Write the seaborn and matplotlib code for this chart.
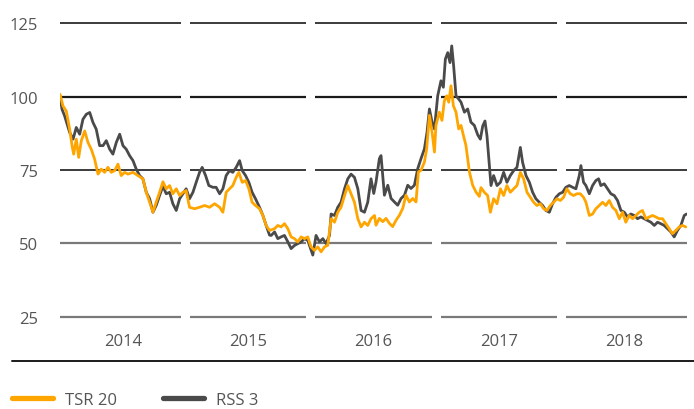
import matplotlib
matplotlib.use("Agg")
import matplotlib.pyplot as plt
import seaborn as sns
import pandas as pd
from matplotlib.lines import Line2D

# ---------------- data (decimal year offsets from 2014, index values) ----------------
tsr_t = [0.000, 0.024, 0.050, 0.077, 0.096, 0.109, 0.130, 0.149, 0.170, 0.197, 0.223, 0.249,
         0.276, 0.303, 0.329, 0.356, 0.382, 0.409, 0.436, 0.462, 0.488, 0.516, 0.542, 0.582,
         0.622, 0.661, 0.688, 0.715, 0.741, 0.767, 0.794, 0.821, 0.847, 0.874, 0.900, 0.927,
         0.954, 0.980, 1.006, 1.033, 1.073, 1.113, 1.153, 1.193, 1.233, 1.273, 1.299, 1.325,
         1.352, 1.378, 1.405, 1.426, 1.453, 1.480, 1.506, 1.532, 1.559, 1.591, 1.618, 1.644,
         1.671, 1.711, 1.737, 1.763, 1.790, 1.817, 1.843, 1.870, 1.896, 1.923, 1.950, 1.976,
         2.002, 2.029, 2.056, 2.082, 2.109, 2.135, 2.162, 2.189, 2.215, 2.241, 2.269, 2.295,
         2.321, 2.348, 2.375, 2.401, 2.428, 2.454, 2.480, 2.508, 2.520, 2.547, 2.574, 2.600,
         2.627, 2.653, 2.680, 2.707, 2.733, 2.759, 2.786, 2.813, 2.839, 2.858, 2.879, 2.906,
         2.924, 2.946, 2.967, 2.986, 2.998, 3.025, 3.046, 3.065, 3.084, 3.100, 3.118, 3.137,
         3.158, 3.179, 3.198, 3.217, 3.237, 3.265, 3.291, 3.317, 3.344, 3.357, 3.384, 3.410,
         3.432, 3.458, 3.485, 3.512, 3.538, 3.564, 3.591, 3.618, 3.644, 3.671, 3.697, 3.724,
         3.751, 3.777, 3.803, 3.830, 3.857, 3.883, 3.910, 3.936, 3.963, 3.990, 4.016, 4.042,
         4.069, 4.096, 4.122, 4.149, 4.175, 4.194, 4.221, 4.247, 4.273, 4.300, 4.327, 4.353,
         4.380, 4.406, 4.433, 4.460, 4.486, 4.512, 4.539, 4.566, 4.592, 4.619, 4.645, 4.672,
         4.699, 4.725, 4.751, 4.778, 4.805, 4.831, 4.858, 4.884, 4.911, 4.938, 4.964, 4.990]
tsr_v = [100.8, 96.8, 95.1, 88.9, 83.3, 80.4, 85.5, 79.3, 85.0, 88.3, 84.4, 82.1,
         78.7, 73.6, 75.3, 74.2, 75.9, 74.2, 74.8, 77.0, 73.1, 74.2, 73.6, 74.2,
         73.1, 72.0, 67.4, 64.0, 60.6, 64.0, 67.4, 71.0, 68.6, 69.7, 66.9, 68.6,
         66.3, 67.4, 68.0, 62.3, 61.8, 62.3, 62.9, 62.3, 63.5, 62.3, 60.6, 67.4,
         68.6, 69.7, 72.5, 74.2, 70.8, 71.4, 68.6, 64.0, 62.9, 61.8, 59.5, 56.1,
         54.4, 55.0, 56.1, 55.6, 56.7, 55.0, 52.2, 51.6, 50.5, 52.2, 51.6, 52.2,
         48.8, 47.6, 48.8, 47.1, 48.8, 49.3, 58.4, 57.2, 60.6, 62.3, 66.3, 69.7,
         66.9, 64.0, 58.4, 55.6, 57.2, 56.1, 58.4, 59.5, 56.2, 58.5, 57.4, 58.5,
         56.8, 55.7, 57.9, 59.6, 61.9, 66.4, 64.1, 65.3, 64.1, 74.3, 74.9, 77.7,
         82.2, 93.6, 87.9, 81.1, 90.2, 94.7, 91.9, 98.6, 100.3, 98.1, 103.7, 96.9,
         94.7, 89.0, 90.2, 86.8, 83.4, 74.3, 69.8, 67.5, 66.0, 69.0, 67.4, 66.3,
         60.6, 65.2, 63.5, 68.6, 66.3, 69.7, 67.4, 68.6, 69.7, 74.2, 72.0, 67.4,
         65.7, 64.0, 62.9, 63.5, 61.8, 61.2, 62.9, 64.0, 65.2, 64.6, 65.7, 68.6,
         66.9, 66.3, 66.9, 66.9, 65.7, 64.0, 59.5, 60.0, 61.8, 62.9, 64.0, 62.9,
         64.6, 62.3, 61.2, 58.4, 60.6, 57.2, 59.5, 58.4, 59.5, 60.6, 61.2, 58.4,
         59.0, 59.5, 59.0, 58.4, 58.4, 56.7, 55.0, 53.3, 54.4, 55.6, 56.1, 55.6]

rss_t = [0.000, 0.016, 0.037, 0.077, 0.104, 0.130, 0.157, 0.183, 0.210, 0.237, 0.263, 0.289,
         0.316, 0.343, 0.369, 0.396, 0.422, 0.449, 0.476, 0.502, 0.528, 0.555, 0.582, 0.608,
         0.635, 0.661, 0.688, 0.715, 0.741, 0.767, 0.794, 0.821, 0.847, 0.874, 0.900, 0.927,
         0.954, 0.980, 1.006, 1.033, 1.060, 1.086, 1.113, 1.134, 1.161, 1.187, 1.219, 1.245,
         1.273, 1.299, 1.325, 1.352, 1.378, 1.405, 1.432, 1.453, 1.480, 1.506, 1.532, 1.559,
         1.591, 1.618, 1.644, 1.671, 1.684, 1.711, 1.737, 1.763, 1.790, 1.817, 1.843, 1.870,
         1.896, 1.923, 1.950, 1.976, 2.016, 2.042, 2.069, 2.096, 2.122, 2.149, 2.162, 2.189,
         2.215, 2.241, 2.269, 2.295, 2.321, 2.348, 2.375, 2.401, 2.428, 2.454, 2.480, 2.502,
         2.520, 2.547, 2.560, 2.587, 2.614, 2.640, 2.667, 2.693, 2.720, 2.747, 2.773, 2.799,
         2.826, 2.853, 2.879, 2.906, 2.927, 2.946, 2.967, 2.986, 3.012, 3.038, 3.057, 3.073,
         3.092, 3.110, 3.124, 3.139, 3.158, 3.179, 3.198, 3.225, 3.251, 3.277, 3.304, 3.331,
         3.352, 3.371, 3.389, 3.405, 3.424, 3.437, 3.458, 3.485, 3.512, 3.538, 3.564, 3.591,
         3.618, 3.644, 3.671, 3.689, 3.716, 3.743, 3.769, 3.795, 3.822, 3.849, 3.875, 3.902,
         3.928, 3.955, 3.982, 4.008, 4.034, 4.061, 4.088, 4.114, 4.141, 4.154, 4.175, 4.194,
         4.221, 4.247, 4.273, 4.295, 4.313, 4.340, 4.367, 4.393, 4.420, 4.446, 4.473, 4.500,
         4.526, 4.552, 4.579, 4.606, 4.632, 4.659, 4.685, 4.712, 4.739, 4.765, 4.791, 4.818,
         4.845, 4.871, 4.898, 4.924, 4.951, 4.978, 4.996]
rss_v = [100.2, 95.7, 93.4, 87.8, 85.5, 89.5, 87.2, 92.3, 94.0, 94.6, 91.2, 88.9,
         83.3, 83.3, 85.0, 82.1, 80.4, 84.4, 87.2, 83.3, 82.1, 79.9, 78.2, 75.3,
         73.1, 72.0, 67.4, 65.2, 60.6, 62.9, 66.3, 69.5, 66.9, 67.4, 63.5, 61.2,
         65.2, 66.9, 68.6, 65.2, 67.4, 70.8, 74.2, 75.9, 73.1, 69.7, 69.1, 69.1,
         66.9, 68.6, 73.1, 74.8, 74.2, 75.9, 78.2, 74.8, 73.1, 70.8, 67.4, 65.2,
         62.3, 59.5, 56.1, 52.8, 52.7, 53.9, 51.6, 52.2, 52.7, 50.5, 48.2, 49.3,
         49.9, 50.5, 51.6, 51.0, 46.0, 52.7, 50.5, 51.6, 49.9, 52.7, 60.0, 59.5,
         62.3, 64.0, 68.6, 72.0, 73.6, 72.5, 68.6, 61.2, 60.6, 64.0, 72.0, 67.0,
         70.9, 78.9, 79.9, 66.4, 69.8, 65.3, 64.1, 63.0, 65.3, 66.4, 69.8, 68.7,
         69.8, 75.5, 78.9, 82.2, 87.9, 95.8, 91.3, 89.0, 100.3, 105.4, 103.2, 112.8,
         115.0, 111.6, 117.3, 110.5, 100.3, 99.2, 98.1, 94.7, 95.8, 91.3, 90.2, 87.0,
         85.5, 90.0, 91.7, 86.6, 76.5, 69.7, 73.1, 69.7, 70.8, 74.2, 70.8, 73.1,
         74.8, 75.9, 82.7, 77.6, 73.1, 70.8, 67.4, 65.2, 64.0, 62.9, 61.2, 60.6,
         63.5, 65.7, 66.9, 67.4, 69.1, 69.7, 69.1, 68.6, 73.1, 76.5, 70.8, 69.7,
         66.9, 69.7, 71.4, 72.0, 69.7, 70.3, 68.6, 66.9, 66.3, 64.6, 61.2, 60.6,
         59.0, 60.0, 59.5, 58.4, 59.0, 58.4, 57.8, 57.2, 56.1, 57.2, 56.7, 56.1,
         55.0, 53.9, 52.2, 54.4, 56.1, 59.5, 60.0]

start_year = 2014
years = [2014, 2015, 2016, 2017, 2018]
year_labels = ["2014", "2015", "2016", "2017", "2018"]
yticks = [25, 50, 75, 100, 125]
series_names = ["TSR 20", "RSS 3"]

# ---------------- build frame ----------------
df = pd.concat([
    pd.DataFrame({"t": [start_year + x for x in rss_t], "v": rss_v, "series": "RSS 3"}),
    pd.DataFrame({"t": [start_year + x for x in tsr_t], "v": tsr_v, "series": "TSR 20"}),
], ignore_index=True)

ORANGE = "#FFA500"
DARK = "#4A4A4A"
TXT = "#555555"

sns.set_style("white")
plt.rcParams['font.family'] = ['Open Sans', 'DejaVu Sans']

W, H = 694, 410
fig = plt.figure(figsize=(W / 100, H / 100), dpi=100)
ylo, yhi = 20, 130
px_per = 293.4 / 100.0
bot_px = 317.7 + (25 - ylo) * px_per
top_px = 24.3 - (yhi - 125) * px_per
ax = fig.add_axes([60 / W, 1 - bot_px / H, 627 / W, (bot_px - top_px) / H])

# grid segments per year with small gaps
gap = 4.5 / 125.4
grid_cols = {25: "#7a7a7a", 50: "#7a7a7a", 75: "#1a1a1a", 100: "#1a1a1a", 125: "#1a1a1a"}
grid_lw = {25: 1.6, 50: 1.6, 75: 1.2, 100: 1.6, 125: 1.2}
for yv in yticks:
    for i, yr in enumerate(years):
        x0 = yr + (gap if i > 0 else 0)
        x1 = yr + 1 - (gap if i < len(years) - 1 else 0)
        ax.hlines(yv, x0, x1, color=grid_cols[yv], lw=grid_lw[yv], zorder=1)

sns.lineplot(data=df, x="t", y="v", hue="series", hue_order=["RSS 3", "TSR 20"],
             palette={"RSS 3": DARK, "TSR 20": ORANGE}, estimator=None, sort=False,
             linewidth=2.0, legend=False, ax=ax, zorder=3)

ax.set_xlim(2014, 2019)
ax.set_ylim(ylo, yhi)
ax.set_yticks(yticks)
ax.set_yticklabels([str(v) for v in yticks])
ax.set_xticks([y + 0.5 for y in years])
ax.set_xticklabels(year_labels)
ax.tick_params(axis="both", length=0, labelsize=12, labelcolor=TXT)
ax.tick_params(axis="y", pad=16)
ax.tick_params(axis="x", pad=1)
ax.set_xlabel("")
ax.set_ylabel("")
for s in ax.spines.values():
    s.set_visible(False)
ax.set_facecolor("none")

# bottom rule
fig.add_artist(Line2D([12 / W, 1.0], [1 - 362 / H, 1 - 362 / H], color="#1a1a1a", lw=1.4,
                      transform=fig.transFigure))

handles = [Line2D([], [], color=ORANGE, lw=3.8), Line2D([], [], color=DARK, lw=3.8)]
leg = fig.legend(handles, series_names, loc="center left", bbox_to_anchor=(12 / W, 1 - 401 / H),
                 ncol=2, frameon=False, fontsize=12, handlelength=2.45, handletextpad=0.72,
                 columnspacing=2.75, borderaxespad=0, borderpad=0)
for t in leg.get_texts():
    t.set_color(TXT)

fig.savefig("out.png", dpi=100)
